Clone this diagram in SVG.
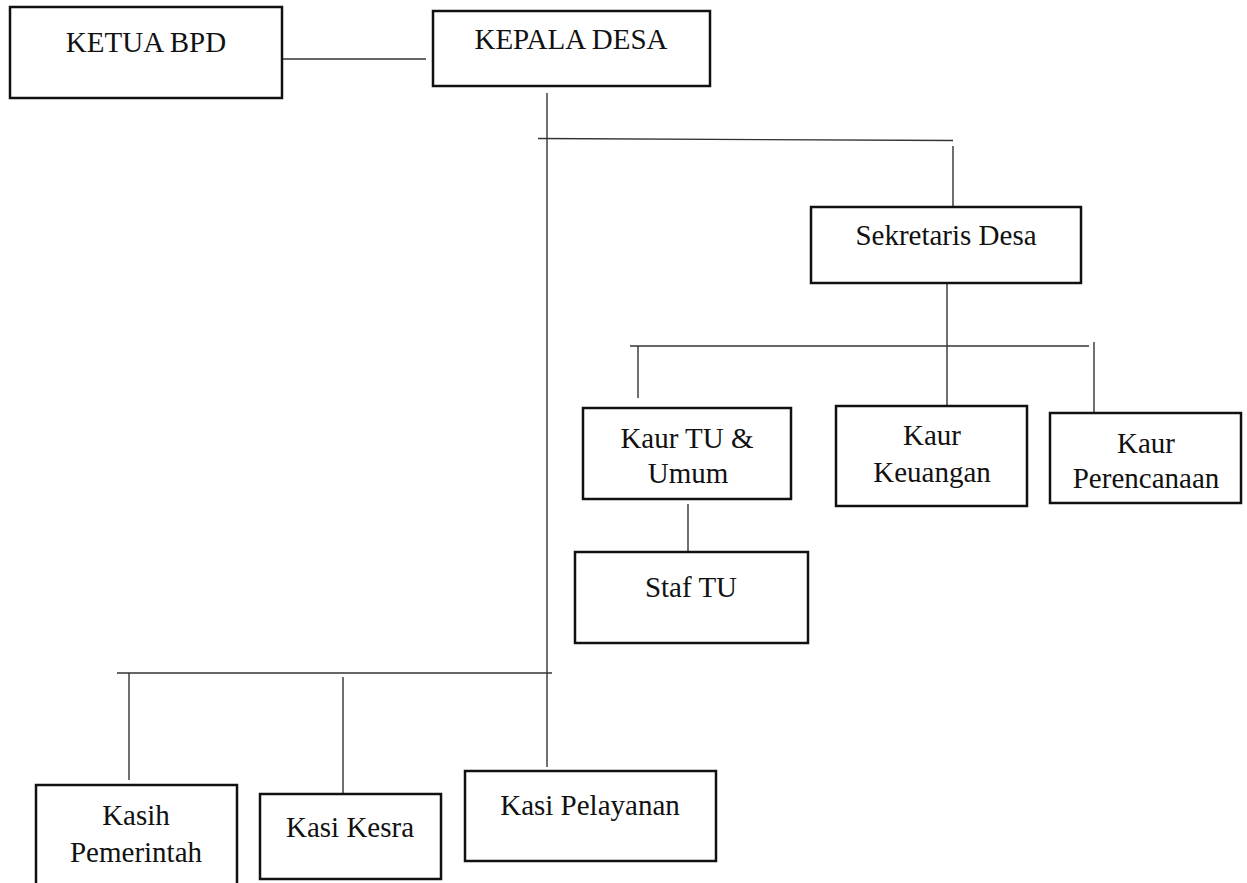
<svg xmlns="http://www.w3.org/2000/svg" width="1247" height="883" viewBox="0 0 1247 883">
<style>
.box{fill:#fff;stroke:#111;stroke-width:2.5}
.t{font-family:"Liberation Serif","Times New Roman",serif;font-size:29px;fill:#111;text-anchor:middle}
.c line{stroke:#333;stroke-width:1.4}
</style>
<rect width="1247" height="883" fill="#fff"/>
<g id="connectors" class="c">
<line x1="278" y1="59" x2="426" y2="59"/>
<line x1="547" y1="93" x2="547" y2="767"/>
<line x1="538" y1="138.5" x2="953" y2="140.5"/>
<line x1="953" y1="146" x2="953" y2="207"/>
<line x1="947" y1="283" x2="947" y2="405"/>
<line x1="630" y1="346" x2="1089" y2="346"/>
<line x1="638" y1="346" x2="638" y2="398"/>
<line x1="1094" y1="342" x2="1094" y2="412"/>
<line x1="688" y1="504" x2="688" y2="551"/>
<line x1="117" y1="673" x2="552" y2="673"/>
<line x1="129" y1="673" x2="129" y2="780"/>
<line x1="343" y1="677" x2="343" y2="793"/>
</g>
<g id="ketua-bpd"><rect class="box" x="10" y="7" width="272" height="91"/><text class="t" x="146" y="52">KETUA BPD</text></g>
<g id="kepala-desa"><rect class="box" x="433" y="11" width="277" height="75"/><text class="t" x="571" y="49">KEPALA DESA</text></g>
<g id="sekretaris-desa"><rect class="box" x="811" y="207" width="270" height="76"/><text class="t" x="946" y="245">Sekretaris Desa</text></g>
<g id="kaur-tu-umum"><rect class="box" x="583" y="408" width="208" height="91"/><text class="t" x="687" y="448">Kaur TU &amp;</text><text class="t" x="688" y="483">Umum</text></g>
<g id="kaur-keuangan"><rect class="box" x="836" y="406" width="191" height="100"/><text class="t" x="932" y="445">Kaur</text><text class="t" x="932" y="482">Keuangan</text></g>
<g id="kaur-perencanaan"><rect class="box" x="1050" y="413" width="191" height="90"/><text class="t" x="1146" y="453">Kaur</text><text class="t" x="1146" y="488">Perencanaan</text></g>
<g id="staf-tu"><rect class="box" x="575" y="552" width="233" height="91"/><text class="t" x="691" y="597">Staf TU</text></g>
<g id="kasih-pemerintah"><rect class="box" x="36" y="785" width="201" height="110"/><text class="t" x="136" y="825">Kasih</text><text class="t" x="136" y="862">Pemerintah</text></g>
<g id="kasi-kesra"><rect class="box" x="260" y="794" width="181" height="85"/><text class="t" x="350" y="837">Kasi Kesra</text></g>
<g id="kasi-pelayanan"><rect class="box" x="465" y="771" width="251" height="90"/><text class="t" x="590" y="815">Kasi Pelayanan</text></g>
</svg>
